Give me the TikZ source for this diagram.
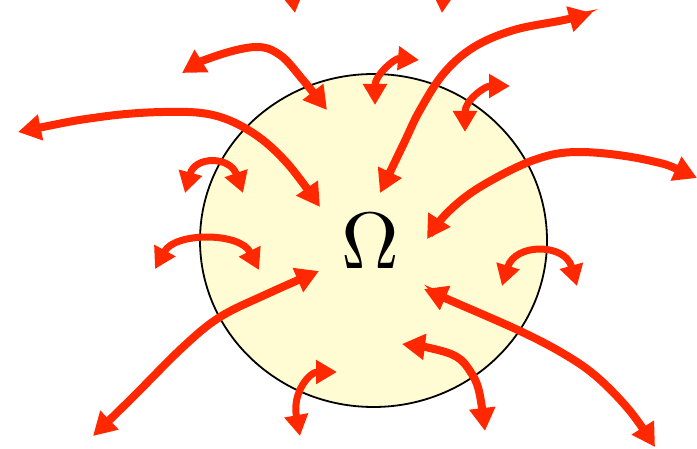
\documentclass[tikz,border=0pt]{standalone}
\usepackage{graphicx}
\usepackage{xcolor}
\usepackage{tikz}
\usepackage{amsmath}
\usetikzlibrary{shapes.geometric, arrows.meta, positioning}
\definecolor{fluxred}{RGB}{255, 40, 0}
\definecolor{domainfill}{RGB}{255, 252, 212}

\begin{document}
\begin{tikzpicture}[x=1pt, y=-1pt,
  flux/.style={draw=fluxred, line width=8pt, line cap=butt, >={Triangle[length=23pt, width=25pt]}},
  fluxs/.style={flux, line width=7pt, >={Triangle[length=21pt, width=23pt]}},
]
  \useasboundingbox (0,0) rectangle (697,449);
  \clip (0,0) rectangle (697,449);

  % Domain
  \node[draw, ellipse, line width=1.8pt, fill=domainfill, minimum width=347pt, minimum height=333pt] (dom) at (373.5,240.5) {};
  \node (omega) at (370,241.5) {\scalebox{8}{$\Omega$}};

  % Long arrows
  \draw[flux, <->] plot[smooth, tension=0.6] coordinates {(18,132) (100,117) (163,112) (213,115) (253,133) (287,163) (320,207)};
  \draw[flux, <->] plot[smooth, tension=0.6] coordinates {(182,73) (213,57) (255,47) (280,55) (303,80) (327,110)};
  \draw[flux, <->] plot[smooth, tension=0.6] coordinates {(93,436) (133,397) (183,347) (220,317) (267,294) (319,271)};
  \draw[flux, <->] plot[smooth, tension=0.6] coordinates {(697,178) (647,160) (580,152) (534,160) (480,187) (447,213) (427,239)};
  \draw[flux, <->] plot[smooth, tension=0.6] coordinates {(592,13) (564,20) (514,30) (474,47) (444,73) (420,110) (404,143) (380,193)};
  \draw[flux, <->] plot[smooth, tension=0.6] coordinates {(424,289) (454,302) (520,331) (564,354) (597,377) (630,411) (655,447)};
  \draw[flux, <->] plot[smooth, tension=0.6] coordinates {(402,344) (434,349) (457,357) (470,371) (479,391) (485,431)};

  % Short arrows
  \draw[fluxs, <->] (185,193) .. controls (195,156) and (230,156) .. (243,193);
  \draw[fluxs, <->] (155,269) .. controls (175,232) and (240,232) .. (259,270);
  \draw[fluxs, <->] (300,436) .. controls (292,392) and (310,372) .. (337,372);
  \draw[fluxs, <->] (375,105) .. controls (375,75) and (395,58) .. (419,60);
  \draw[fluxs, <->] (465,132) .. controls (465,100) and (485,86) .. (510,86);
  \draw[fluxs, <->] (502,286) .. controls (515,243) and (565,243) .. (577,286);

  % Arrows from above
  \draw[flux, ->] (287,-40) -- (295,13);
  \draw[flux, ->] (446,-40) -- (442,13);
\end{tikzpicture}
\end{document}
